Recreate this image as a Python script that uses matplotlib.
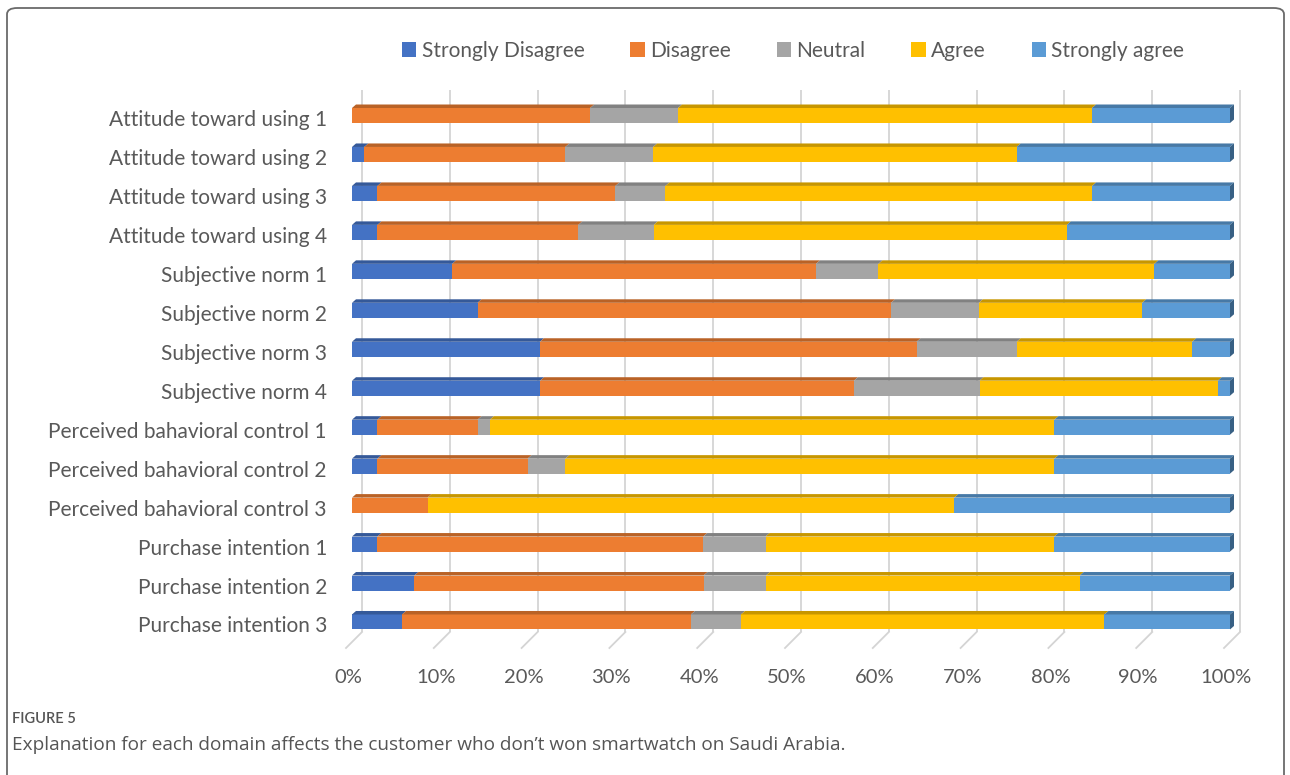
import matplotlib
matplotlib.use("Agg")
import matplotlib.pyplot as plt
from matplotlib.patches import Polygon, Patch, FancyBboxPatch
from matplotlib.transforms import ScaledTranslation
from matplotlib.colors import to_rgb

# ---- data (percent of respondents per answer) ----
categories = [
    "Attitude toward using 1", "Attitude toward using 2", "Attitude toward using 3",
    "Attitude toward using 4", "Subjective norm 1", "Subjective norm 2",
    "Subjective norm 3", "Subjective norm 4", "Perceived bahavioral control 1",
    "Perceived bahavioral control 2", "Perceived bahavioral control 3",
    "Purchase intention 1", "Purchase intention 2", "Purchase intention 3",
]
strongly_disagree = [0.0, 1.4, 2.9, 2.9, 11.4, 14.3, 21.4, 21.4, 2.9, 2.9, 0.0, 2.9, 7.1, 5.7]
disagree = [27.1, 22.9, 27.1, 22.9, 41.4, 47.1, 42.9, 35.7, 11.4, 17.1, 8.6, 37.1, 32.9, 32.9]
neutral = [10.0, 10.0, 5.7, 8.6, 7.1, 10.0, 11.4, 14.3, 1.4, 4.3, 0.0, 7.1, 7.1, 5.7]
agree = [47.1, 41.4, 48.6, 47.1, 31.4, 18.6, 20.0, 27.1, 64.3, 55.7, 60.0, 32.9, 35.7, 41.4]
strongly_agree = [15.7, 24.3, 15.7, 18.6, 8.6, 10.0, 4.3, 1.4, 20.0, 20.0, 31.4, 20.0, 17.1, 14.3]

series_names = ["Strongly Disagree", "Disagree", "Neutral", "Agree", "Strongly agree"]
series_values = [strongly_disagree, disagree, neutral, agree, strongly_agree]
series_colors = ["#4472C4", "#ED7D31", "#A5A5A5", "#FFC000", "#5B9BD5"]
x_ticks = [0, 10, 20, 30, 40, 50, 60, 70, 80, 90, 100]
x_tick_labels = [f"{t}%" for t in x_ticks]

FONT = ["Lato", "DejaVu Sans"]
CAPTION_FONT = ["Open Sans", "DejaVu Sans"]
TEXT_GRAY = "#595959"

W, H = 1290, 775
fig = plt.figure(figsize=(W / 100, H / 100), dpi=100)

# plot area geometry (pixels)
x_left_px, x_right_px = 352, 1230
row0_px, row_step_px = 115.5, 38.96
n = len(categories)
top_px = row0_px - 0.5 * row_step_px
bot_px = row0_px + (n - 0.5) * row_step_px
ax = fig.add_axes([x_left_px / W, 1 - bot_px / H,
                   (x_right_px - x_left_px) / W, (bot_px - top_px) / H])
ax.set_xlim(0, 100)
ax.set_ylim(n - 0.5, -0.5)
for s in ax.spines.values():
    s.set_visible(False)

# pixel -> data unit conversions
px_x = 100 / (x_right_px - x_left_px)
px_y = 1 / row_step_px


def darker(c, f):
    r, g, b = to_rgb(c)
    return (r * f, g * f, b * f)


# back wall gridlines and floor edges
grid_top = (90 - row0_px) * px_y
grid_bot = (632 - row0_px) * px_y
floor_front = (648 - row0_px) * px_y
for t in x_ticks:
    xb = t + 10 * px_x
    ax.plot([xb, xb], [grid_top, grid_bot], color="#d4d4d4", lw=1.3,
            clip_on=False, zorder=1, solid_capstyle="butt")
    ax.plot([xb, t - 6 * px_x], [grid_bot, floor_front], color="#d4d4d4",
            lw=1.3, clip_on=False, zorder=1)

# 3D stacked bars
half_h = 7.5 * px_y
dx = 4 * px_x
dy = 3.5 * px_y
for i in range(n):
    total = sum(v[i] for v in series_values)
    left = 0.0
    last = None
    for vals, col in zip(series_values, series_colors):
        w = vals[i] / total * 100
        if w <= 0:
            continue
        ax.barh(i, w, left=left, height=2 * half_h, color=col, zorder=3,
                linewidth=0)
        top = i - half_h
        ax.add_patch(Polygon([(left, top), (left + dx, top - dy),
                              (left + w + dx, top - dy), (left + w, top)],
                             closed=True, facecolor=darker(col, 0.78),
                             edgecolor="none", zorder=3, clip_on=False))
        last = (left + w, col)
        left += w
    r, col = last
    ax.add_patch(Polygon([(r, i - half_h), (r + dx, i - half_h - dy),
                          (r + dx, i + half_h - dy), (r, i + half_h)],
                         closed=True, facecolor=darker(col, 0.62),
                         edgecolor="none", zorder=3, clip_on=False))

# category labels
ax.set_yticks(range(n))
ax.set_yticklabels(categories, fontsize=15, color=TEXT_GRAY, family=FONT)
ax.tick_params(axis="y", length=0, pad=18)
for lab in ax.get_yticklabels():
    lab.set_transform(lab.get_transform() +
                      ScaledTranslation(0, -2.5 / 100, fig.dpi_scale_trans))

# percentage axis labels
ax.set_xticks(x_ticks)
ax.set_xticklabels(x_tick_labels, fontsize=14.5, color=TEXT_GRAY, family=FONT)
ax.tick_params(axis="x", length=0, pad=20)
for lab in ax.get_xticklabels():
    lab.set_transform(lab.get_transform() +
                      ScaledTranslation(-4 / 100, 0, fig.dpi_scale_trans))

# legend
handles = [Patch(facecolor=c, edgecolor="none", label=nm)
           for nm, c in zip(series_names, series_colors)]
fig.legend(handles=handles, loc="center", bbox_to_anchor=(793 / W, 1 - 51 / H),
           ncol=5, frameon=False, handlelength=0.7, handleheight=0.7,
           handletextpad=0.25, columnspacing=2.2,
           prop={"family": FONT, "size": 15}, labelcolor=TEXT_GRAY)

# caption
fig.text(12 / W, 1 - 719 / H, "FIGURE 5", fontsize=10.5, color="#555555",
         family=FONT, weight="semibold", va="center", ha="left")
fig.text(12 / W, 1 - 745 / H,
         "Explanation for each domain affects the customer who don\u2019t won smartwatch on Saudi Arabia.",
         fontsize=13.7, color="#555555", family=CAPTION_FONT, va="center", ha="left")

# outer frame
fig.patches.append(FancyBboxPatch((7 / W, -0.1), (1284 - 7) / W, 1 - 8 / H + 0.1,
                                  boxstyle="round,pad=0,rounding_size=0.008",
                                  transform=fig.transFigure, fill=False,
                                  edgecolor="#6a6a6a", linewidth=1.3))

fig.savefig("out.png", dpi=100)
